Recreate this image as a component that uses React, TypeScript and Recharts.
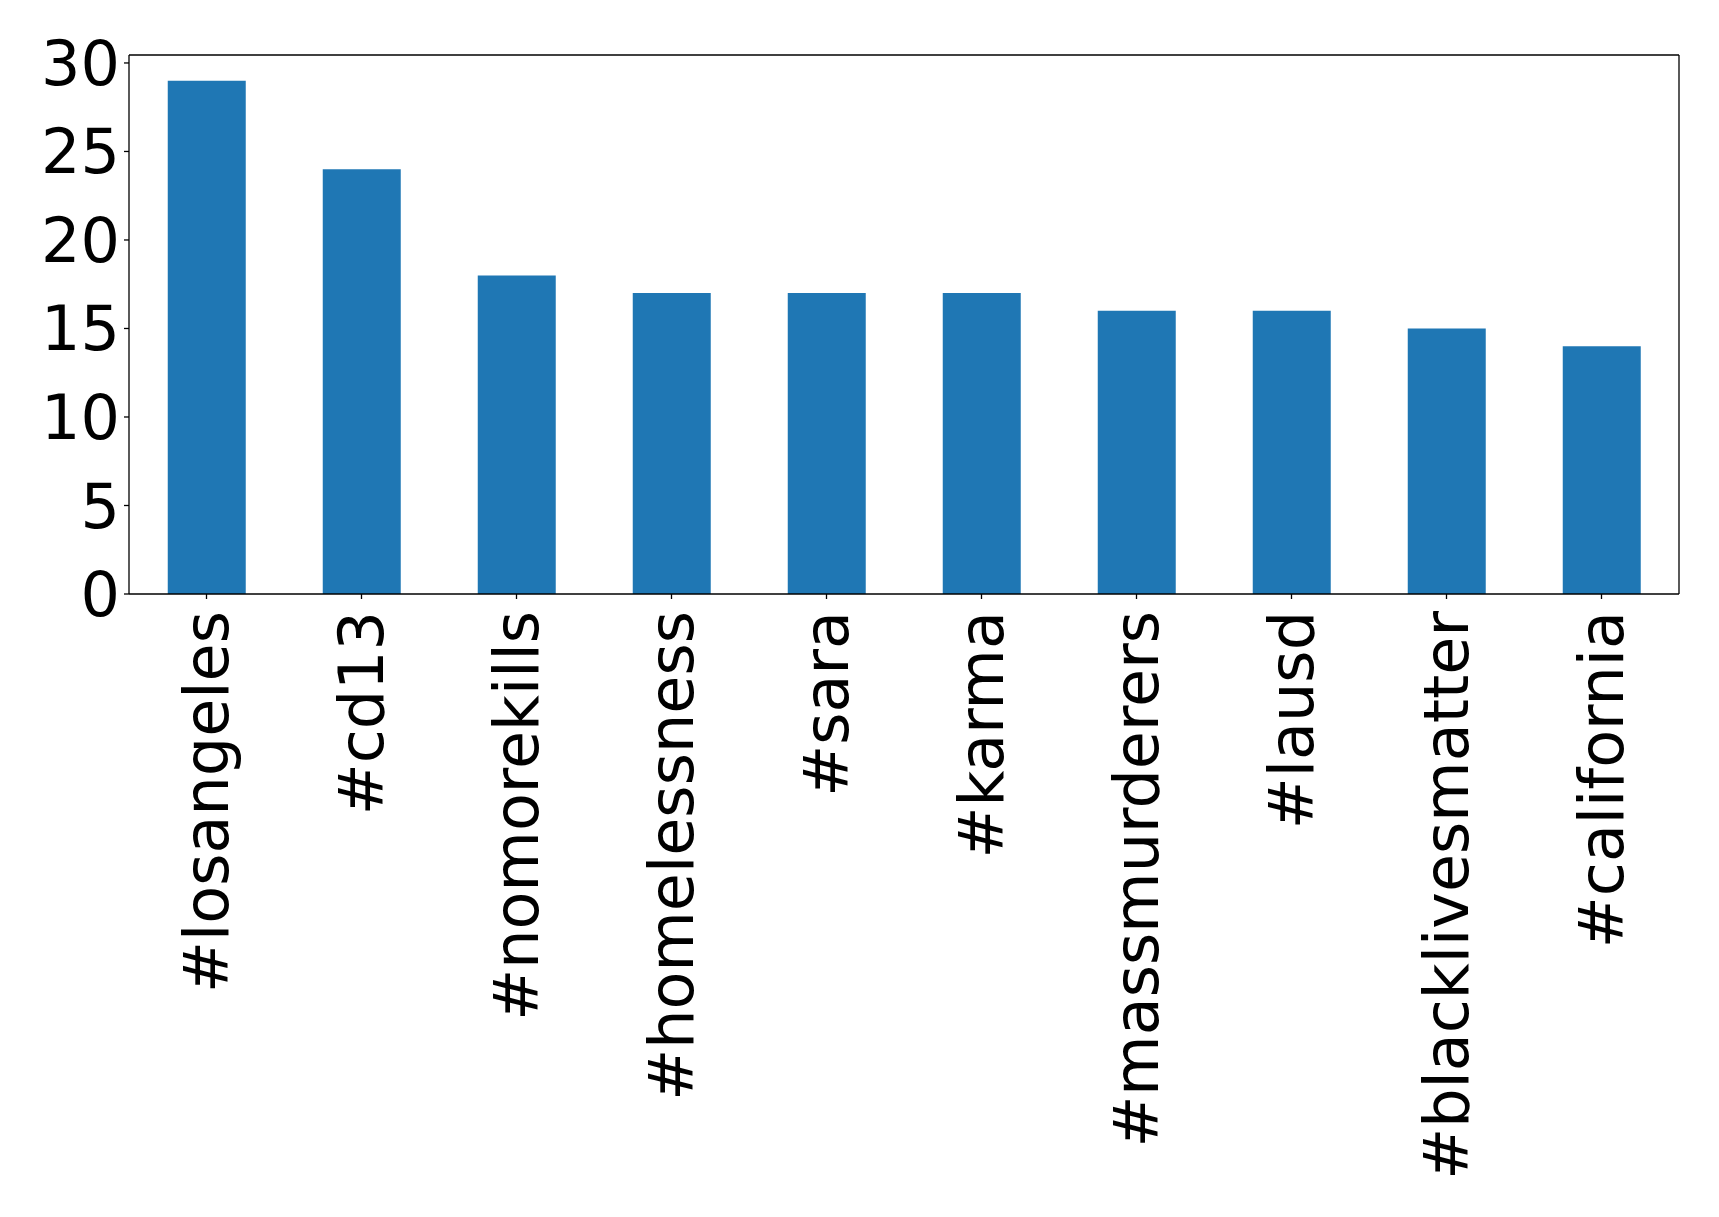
import React from "react";
import { BarChart, Bar, XAxis, YAxis } from "recharts";

const categories = [
  "#losangeles",
  "#cd13",
  "#nomorekills",
  "#homelessness",
  "#sara",
  "#karma",
  "#massmurderers",
  "#lausd",
  "#blacklivesmatter",
  "#california",
];
const counts = [29, 24, 18, 17, 17, 17, 16, 16, 15, 14];
const yTicks = [0, 5, 10, 15, 20, 25, 30];

const data = categories.map((c, i) => ({ tag: c, count: counts[i] }));

const FONT = "'DejaVu Sans', sans-serif";
const FS = 62;

const XTick = (props: any) => {
  const { x, y, payload } = props;
  return (
    <text
      x={x}
      y={y}
      transform={`rotate(-90, ${x}, ${y})`}
      textAnchor="end"
      dominantBaseline="central"
      fontSize={FS}
      fontFamily={FONT}
      fill="#000"
    >
      {payload.value}
    </text>
  );
};

export default function App() {
  return (
    <div style={{ position: "absolute", left: 0, top: 0, background: "#fff" }}>
      <BarChart
        width={1719}
        height={1217}
        data={data}
        margin={{ top: 54, right: 39, left: 0, bottom: 0 }}
        barCategoryGap="25%"
      >
        <XAxis
          dataKey="tag"
          height={623}
          interval={0}
          tick={<XTick />}
          tickSize={5}
          tickMargin={12}
          axisLine={{ stroke: "#000", strokeWidth: 1.3 }}
          tickLine={{ stroke: "#000", strokeWidth: 1.3 }}
        />
        <XAxis
          xAxisId="top"
          dataKey="tag"
          orientation="top"
          height={1}
          tick={false}
          tickLine={false}
          axisLine={{ stroke: "#000", strokeWidth: 1.3 }}
        />
        <YAxis
          width={129}
          domain={[0, 30.45]}
          ticks={yTicks}
          interval={0}
          allowDataOverflow
          tickSize={5}
          tickMargin={4}
          tick={{ fontSize: FS, fontFamily: FONT, fill: "#000" }}
          axisLine={{ stroke: "#000", strokeWidth: 1.3 }}
          tickLine={{ stroke: "#000", strokeWidth: 1.3 }}
        />
        <YAxis
          yAxisId="right"
          orientation="right"
          width={1}
          domain={[0, 30.45]}
          tick={false}
          tickLine={false}
          axisLine={{ stroke: "#000", strokeWidth: 1.3 }}
        />
        <Bar dataKey="count" fill="#1f77b4" isAnimationActive={false} />
      </BarChart>
    </div>
  );
}
